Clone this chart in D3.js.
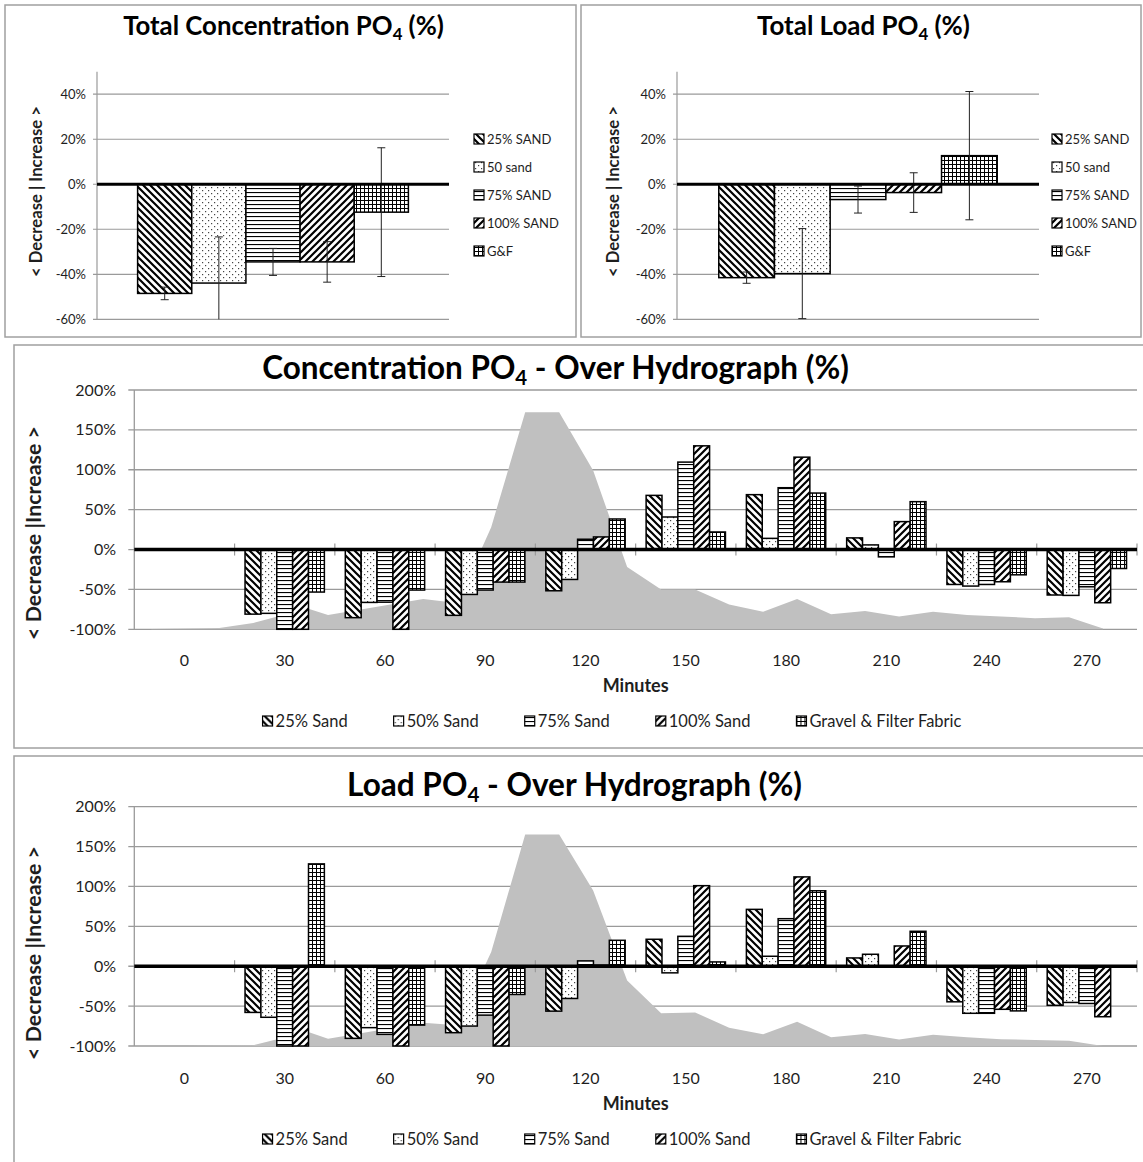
<!DOCTYPE html>
<html>
<head>
<meta charset="utf-8">
<script src="https://cdn.jsdelivr.net/npm/d3@7"></script>
<style>
  body { margin: 0; background: #fff; }
  svg { display: block; }
</style>
</head>
<body>
<svg id="fig" width="1143" height="1162"></svg>
<script>
// ---------- data ----------
const minuteLabels = ["0", "30", "60", "90", "120", "150", "180", "210", "240", "270"];
const seriesNames = ["25% Sand", "50% Sand", "75% Sand", "100% Sand", "Gravel & Filter Fabric"];
const totalNames = ["25% SAND", "50 sand", "75% SAND", "100% SAND", "G&F"];
const totalTicks = [-60, -40, -20, 0, 20, 40];
const hydroTicks = [-100, -50, 0, 50, 100, 150, 200];

// whole-event change (%), with error-bar half widths
const totalConc = [-48.5, -43.9, -34.5, -34.5, -12.4];
const totalConcErr = [2.8, 20.5, 6.0, 9.0, 28.6];
const totalLoad = [-41.5, -39.7, -6.8, -3.7, 12.7];
const totalLoadErr = [2.5, 20.0, 6.0, 8.8, 28.5];

// concentration change (%) per sampling time
const concSand25 = [null, -81, -85.4, -82.5, -51.7, 67.9, 68.8, 14.6, -43.8, -57];
const concSand50 = [null, -80, -66.3, -56.3, -37.5, 40.8, 14, 5.8, -45.8, -57.5];
const concSand75 = [null, -100, -66, -50.8, 12.9, 109.6, 77.5, -9.2, -43.8, -46.7];
const concSand100 = [null, -100, -100, -40.8, 15.8, 130, 115.8, 35, -40.4, -66.7];
const concGravel = [null, -53.3, -50.8, -40.8, 38.3, 22, 70.8, 60, -31.7, -23.8];

// load change (%) per sampling time
const loadSand25 = [null, -57.9, -90.4, -83.3, -56.3, 33.8, 71.3, 10.4, -44.6, -49];
const loadSand50 = [null, -64, -77, -75, -40.4, -8.3, 12.5, 15, -59, -45.4];
const loadSand75 = [null, -100, -85.4, -61.3, 6.7, 37.5, 59.6, 0.5, -59, -46.7];
const loadSand100 = [null, -100, -100, -100, 1.5, 101, 112, 25.4, -54, -63.3];
const loadGravel = [null, 128.3, -73.8, -35.4, 32.5, 5.4, 94.6, 43.8, -56, null];

// runoff hydrograph drawn behind the bars (relative flow, secondary axis 0-300)
const hydroTime = [0, 10, 20, 30, 46, 52, 80, 90, 100, 110, 120, 130, 140, 150, 160, 170, 180, 190, 200, 210, 220, 230, 240, 250, 260, 270, 280];
const hydroFlowConc = [0.5, 1, 1.5, 8, 26, 18, 38, 33, 128, 272, 272, 199, 78, 50, 50, 31, 22, 38, 19, 23, 16, 22, 18, 16, 14, 15, 1];
const hydroFlowLoad = [0, 0, 0.5, 1, 18, 9, 29, 26, 118, 265, 265, 195, 82, 41, 42, 23, 14.6, 30.4, 11, 15, 8, 14, 11, 8.5, 7.5, 6.5, 0];

// ---------- setup ----------
const FONT = "Lato, 'Open Sans', sans-serif";
const TXT = "#1e1e1e";
const GRID = "#9a9a9a";
const BORDER = "#a0a0a0";
const svg = d3.select("#fig").attr("font-family", FONT);
const defs = svg.append("defs");

const patternIds = ["pat-25", "pat-50", "pat-75", "pat-100", "pat-gf"];

function makePattern(id, w, h) {
  const p = defs.append("pattern").attr("id", id)
    .attr("patternUnits", "userSpaceOnUse").attr("width", w).attr("height", h);
  p.append("rect").attr("width", w).attr("height", h).attr("fill", "#fff");
  return p;
}
// wide downward diagonal
makePattern("pat-25", 7, 7).append("path")
  .attr("d", "M0,0L7,7M-2,5L2,9M5,-2L9,2")
  .attr("stroke", "#000").attr("stroke-width", 2.2);
// sparse dots
{
  const p = makePattern("pat-50", 6, 6);
  p.append("rect").attr("x", 1).attr("y", 1).attr("width", 1.2).attr("height", 1.2).attr("fill", "#444");
  p.append("rect").attr("x", 4).attr("y", 4).attr("width", 1.2).attr("height", 1.2).attr("fill", "#444");
}
// narrow horizontal
makePattern("pat-75", 4, 4).append("rect")
  .attr("x", 0).attr("y", 0).attr("width", 4).attr("height", 1.1).attr("fill", "#000");
// wide upward diagonal
makePattern("pat-100", 7, 7).append("path")
  .attr("d", "M0,7L7,0M-2,2L2,-2M5,9L9,5")
  .attr("stroke", "#000").attr("stroke-width", 2.2);
// small grid
makePattern("pat-gf", 4, 4).append("path")
  .attr("d", "M0,0.5H4M0.5,0V4")
  .attr("stroke", "#000").attr("stroke-width", 1);

function fitWidth(text, target) {
  const w = text.node().getComputedTextLength();
  const fs = parseFloat(text.attr("font-size"));
  text.attr("font-size", fs * target / w);
}

// title with a subscript 4 after "PO"
function poTitle(g, x, y, pre, post, size, width) {
  const t = g.append("text").attr("x", x).attr("y", y)
    .attr("text-anchor", "middle").attr("font-weight", "bold")
    .attr("font-size", size).attr("fill", "#000");
  t.append("tspan").text(pre);
  t.append("tspan").attr("font-size", "0.65em").attr("dy", "0.3em").text("4");
  t.append("tspan").attr("dy", "-0.195em").text(post);
  fitWidth(t, width);
  return t;
}

function yTitle(g, x, y, label, size, width) {
  const t = g.append("text")
    .attr("transform", `translate(${x},${y}) rotate(-90)`)
    .attr("text-anchor", "middle").attr("dominant-baseline", "middle")
    .attr("font-weight", "bold").attr("font-size", size).attr("fill", TXT)
    .text(label);
  fitWidth(t, width);
}

// ---------- whole-event panels ----------
function totalPanel(cfg) {
  const g = svg.append("g");
  g.append("rect").attr("x", cfg.px).attr("y", cfg.py).attr("width", cfg.pw).attr("height", cfg.ph)
    .attr("fill", "none").attr("stroke", BORDER).attr("stroke-width", 1.5);

  const y = d3.scaleLinear().domain([-60, 50]).range([319.3, 71.7]);
  const x = d3.scaleBand().domain(totalNames).range([cfg.x0, cfg.x1])
    .paddingInner(0).paddingOuter(0.75);

  g.selectAll(".grid").data(totalTicks).join("line")
    .attr("x1", cfg.x0 - 4).attr("x2", cfg.x1)
    .attr("y1", d => y(d)).attr("y2", d => y(d))
    .attr("stroke", GRID).attr("stroke-width", 1.2);
  g.append("line").attr("x1", cfg.x0).attr("x2", cfg.x0)
    .attr("y1", y(50)).attr("y2", y(-60)).attr("stroke", GRID).attr("stroke-width", 1.2);

  g.selectAll(".ylab").data(totalTicks).join("text")
    .attr("x", cfg.x0 - 11).attr("y", d => y(d)).attr("dy", "0.35em")
    .attr("text-anchor", "end").attr("font-size", 13).attr("fill", TXT)
    .text(d => d + "%");

  const rows = cfg.values.map((v, i) => ({ name: totalNames[i], v, e: cfg.errors[i], pat: patternIds[i] }));
  g.selectAll(".bar").data(rows).join("rect")
    .attr("x", d => x(d.name)).attr("width", x.bandwidth())
    .attr("y", d => y(Math.max(0, d.v))).attr("height", d => Math.abs(y(d.v) - y(0)))
    .attr("fill", d => `url(#${d.pat})`).attr("stroke", "#000").attr("stroke-width", 1.5);

  // error bars
  const cx = d => x(d.name) + x.bandwidth() / 2;
  const eg = g.selectAll(".err").data(rows).join("g");
  eg.append("line")
    .attr("x1", cx).attr("x2", cx)
    .attr("y1", d => y(Math.min(50, d.v + d.e))).attr("y2", d => y(Math.max(-60, d.v - d.e)))
    .attr("stroke", "#222").attr("stroke-width", 1);
  eg.append("line")
    .attr("x1", d => cx(d) - 4).attr("x2", d => cx(d) + 4)
    .attr("y1", d => y(d.v + d.e)).attr("y2", d => y(d.v + d.e))
    .attr("stroke", "#222").attr("stroke-width", 1);
  eg.filter(d => d.v - d.e >= -60).append("line")
    .attr("x1", d => cx(d) - 4).attr("x2", d => cx(d) + 4)
    .attr("y1", d => y(d.v - d.e)).attr("y2", d => y(d.v - d.e))
    .attr("stroke", "#222").attr("stroke-width", 1);

  g.append("line").attr("x1", cfg.x0).attr("x2", cfg.x1).attr("y1", y(0)).attr("y2", y(0))
    .attr("stroke", "#000").attr("stroke-width", 3);

  // legend
  const lg = g.selectAll(".leg").data(totalNames).join("g")
    .attr("transform", (d, i) => `translate(${cfg.legX},${139 + i * 28})`);
  lg.append("rect").attr("x", 0).attr("y", -5).attr("width", 10).attr("height", 10)
    .attr("fill", (d, i) => `url(#${patternIds[i]})`).attr("stroke", "#000").attr("stroke-width", 1.2);
  lg.append("text").attr("x", 13).attr("dy", "0.35em").attr("font-size", 13).attr("fill", TXT).text(d => d);

  poTitle(g, cfg.titleX, 35, cfg.titlePre, " (%)", 22, cfg.titleW);
  yTitle(g, cfg.yTitleX, 191.5, "< Decrease | Increase >", 14, 171);
}

totalPanel({
  px: 5, py: 5, pw: 571, ph: 332, x0: 97, x1: 449, legX: 474,
  values: totalConc, errors: totalConcErr,
  titleX: 283.5, titlePre: "Total Concentration PO", titleW: 321, yTitleX: 38
});
totalPanel({
  px: 581, py: 5, pw: 560, ph: 332, x0: 677, x1: 1039, legX: 1052,
  values: totalLoad, errors: totalLoadErr,
  titleX: 863.5, titlePre: "Total Load PO", titleW: 213, yTitleX: 615
});

// ---------- over-hydrograph panels ----------
function hydroPanel(cfg) {
  const g = svg.append("g");
  g.append("rect").attr("x", 14).attr("y", cfg.py).attr("width", 1160).attr("height", cfg.ph)
    .attr("fill", "none").attr("stroke", BORDER).attr("stroke-width", 1.5);

  const x0 = 134.3, x1 = 1137;
  const y = d3.scaleLinear().domain([-100, 200]).range([cfg.yBottom, cfg.yTop]);
  const xc = d3.scaleBand().domain(minuteLabels).range([x0, x1]);
  const xs = d3.scaleBand().domain(seriesNames).range([0, xc.bandwidth()]).paddingOuter(0.66);
  // secondary (hidden) axes for the hydrograph
  const hx = d3.scaleLinear().domain([-5, 290]).range([x0, x1]);
  const hy = d3.scaleLinear().domain([0, 300]).range([cfg.yBottom, cfg.yTop]);

  g.selectAll(".grid").data(hydroTicks).join("line")
    .attr("x1", x0 - 6).attr("x2", x1)
    .attr("y1", d => y(d)).attr("y2", d => y(d))
    .attr("stroke", GRID).attr("stroke-width", 1.3);
  g.append("line").attr("x1", x0).attr("x2", x0)
    .attr("y1", y(200)).attr("y2", y(-100)).attr("stroke", GRID).attr("stroke-width", 1.3);

  const hydro = hydroTime.map((t, i) => ({ t, f: cfg.flow[i] }));
  g.append("path").datum(hydro)
    .attr("d", d3.area().x(d => hx(d.t)).y0(hy(0)).y1(d => hy(d.f)))
    .attr("fill", "#c0c0c0");

  g.selectAll(".ylab").data(hydroTicks).join("text")
    .attr("x", 116).attr("y", d => y(d)).attr("dy", "0.35em")
    .attr("text-anchor", "end").attr("font-size", 16).attr("fill", TXT)
    .text(d => d + "%");

  // bars
  const rows = [];
  cfg.series.forEach((vals, j) => vals.forEach((v, i) => {
    if (v !== null) rows.push({ cat: minuteLabels[i], s: seriesNames[j], v, pat: patternIds[j] });
  }));
  g.selectAll(".bar").data(rows).join("rect")
    .attr("x", d => xc(d.cat) + xs(d.s)).attr("width", xs.bandwidth())
    .attr("y", d => y(Math.max(0, d.v))).attr("height", d => Math.abs(y(d.v) - y(0)))
    .attr("fill", d => `url(#${d.pat})`).attr("stroke", "#000").attr("stroke-width", 1.5);

  // category boundary ticks and zero axis
  g.selectAll(".tick").data(minuteLabels).join("line")
    .attr("x1", d => xc(d) + xc.bandwidth()).attr("x2", d => xc(d) + xc.bandwidth())
    .attr("y1", y(0) - 6).attr("y2", y(0) + 6)
    .attr("stroke", GRID).attr("stroke-width", 1.2);
  g.append("line").attr("x1", x0).attr("x2", x1).attr("y1", y(0)).attr("y2", y(0))
    .attr("stroke", "#000").attr("stroke-width", 3.5);

  g.selectAll(".xlab").data(minuteLabels).join("text")
    .attr("x", d => xc(d) + xc.bandwidth() / 2).attr("y", cfg.xLabY)
    .attr("text-anchor", "middle").attr("font-size", 16).attr("fill", TXT)
    .text(d => d);
  g.append("text").attr("x", (x0 + x1) / 2).attr("y", cfg.xLabY + 26)
    .attr("text-anchor", "middle").attr("font-size", 18).attr("font-weight", "bold")
    .attr("fill", TXT).text("Minutes");

  // legend, laid out from the measured label widths
  const gap = 46;
  const lg = g.append("g");
  let cx = 0;
  seriesNames.forEach((name, i) => {
    const item = lg.append("g").attr("transform", `translate(${cx},0)`);
    item.append("rect").attr("x", 0).attr("y", -5).attr("width", 10).attr("height", 10)
      .attr("fill", `url(#${patternIds[i]})`).attr("stroke", "#000").attr("stroke-width", 1.2);
    const t = item.append("text").attr("x", 13).attr("dy", "0.35em").attr("font-size", 16.5)
      .attr("fill", TXT).text(name);
    cx += 13 + t.node().getComputedTextLength() + gap;
  });
  const lw = cx - gap;
  lg.attr("transform", `translate(${612 - lw / 2},${cfg.legY})`);

  poTitle(g, cfg.titleX, cfg.yTop - 11, cfg.titlePre, " - Over Hydrograph (%)", 28, cfg.titleW);
  yTitle(g, 36, cfg.yTitleY, "< Decrease |Increase >", 17, 214);
}

hydroPanel({
  py: 345, ph: 403, yTop: 390, yBottom: 629.3, xLabY: 666, legY: 721,
  series: [concSand25, concSand50, concSand75, concSand100, concGravel],
  flow: hydroFlowConc,
  titleX: 555.5, titlePre: "Concentration PO", titleW: 587, yTitleY: 533
});
hydroPanel({
  py: 756, ph: 430, yTop: 806.7, yBottom: 1046, xLabY: 1084, legY: 1139,
  series: [loadSand25, loadSand50, loadSand75, loadSand100, loadGravel],
  flow: hydroFlowLoad,
  titleX: 574.5, titlePre: "Load PO", titleW: 455, yTitleY: 953
});
</script>
</body>
</html>
